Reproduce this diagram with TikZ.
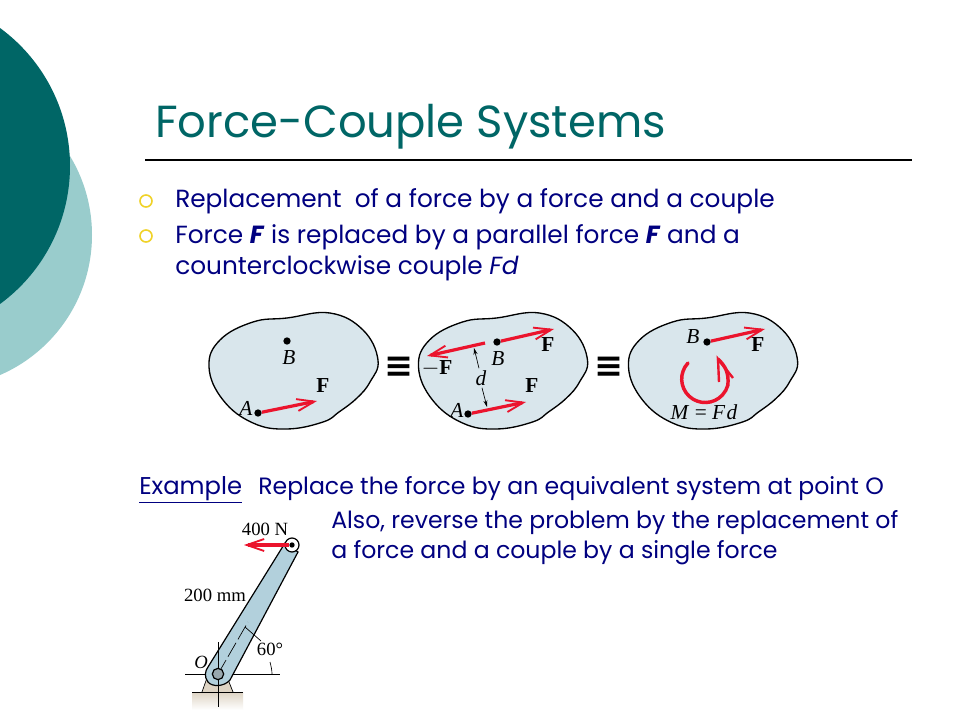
\documentclass[tikz,border=0pt]{standalone}
\usepackage{fontspec}
\setmainfont{Poppins}
\newfontfamily\figfont{Liberation Serif}
\newfontfamily\symfont{DejaVu Sans}
\usepackage{xcolor}
\usetikzlibrary{arrows.meta,positioning}
\definecolor{slideteal}{RGB}{0,102,102}
\definecolor{slidelight}{RGB}{153,204,204}
\definecolor{slidenavy}{RGB}{0,0,128}
\definecolor{slideyellow}{RGB}{240,210,40}
\definecolor{forcered}{RGB}{235,20,45}
\definecolor{blobblue}{RGB}{217,230,236}
\definecolor{armblue}{RGB}{178,208,220}
\definecolor{basetan}{RGB}{222,212,196}
\newcommand{\blobshape}[1]{%
  \draw[blobline,shift={(#1,0)}] plot[smooth cycle,tension=0.7] coordinates {(209,367) (220,340) (253,322) (287,318) (330,313) (363,330) (378,360) (370,382) (357,398) (339,412) (323,422) (287,429) (253,423) (223,400)};}
\tikzset{
  blobline/.style={draw=black,line width=1pt,fill=blobblue},
  forcearrow/.style={draw=forcered,line width=2.4pt,-{Straight Barb[length=13pt,width=9pt,line width=1.4pt]}},
  couplearc/.style={draw=forcered,line width=2.6pt,line cap=round},
  couplebarb/.style={draw=forcered,line width=1.8pt,line join=miter},
  pointdot/.style={fill=black,circle,inner sep=0pt,minimum size=5.5pt},
  bodytext/.style={anchor=base west,inner sep=0pt,text=slidenavy,font=\fontsize{18.6}{22}\selectfont},
  lowertext/.style={bodytext,font=\fontsize{17.7}{22}\selectfont},
  figlabel/.style={inner sep=0pt,font=\figfont\fontsize{16}{18}\selectfont},
  leverlabel/.style={inner sep=0pt,font=\figfont\fontsize{14}{16}\selectfont},
  equivsign/.style={inner sep=0pt,font=\symfont\bfseries\fontsize{26}{26}\selectfont},
  thinline/.style={line width=0.5pt},
  ring/.style={circle,draw=slideyellow,line width=1.2pt,minimum size=9pt,inner sep=0pt}
}
\begin{document}
\begin{tikzpicture}[x=0.75pt,y=-0.75pt]
    \useasboundingbox (0,0) rectangle (960,720);
    \clip (0,0) rectangle (960,720);
    % Background circles
    \fill[white] (0,0) rectangle (960,720);
    \fill[slidelight] (-60.5,235) circle (152.5);
    \fill[slideteal] (-101,166) circle (171);
    % Title
    \node[anchor=base west,inner sep=0pt,text=slideteal,font=\fontsize{33.7}{40}\selectfont] (title) at (155,138) {Force-Couple Systems};
    \draw[line width=0.8pt] (145,160) -- (912,160);
    % Bullets
    \node[ring] (ringa) at (146,201) {};
    \node[ring] (ringb) at (146,236) {};
    \node[bodytext] (linea) at (175,208) {Replacement\ \ of a force by a force and a couple};
    \node[bodytext] (lineb) at (175,244) {Force \textbf{\textit{F}} is replaced by a parallel force \textbf{\textit{F}} and a};
    \node[bodytext] (linec) at (175,275) {counterclockwise couple \textit{Fd}};
    % Three bodies
    \blobshape{0}
    \blobshape{209.5}
    \blobshape{419.5}
    \node[equivsign] (eqa) at (399,367) {≡};
    \node[equivsign] (eqb) at (609,367) {≡};
    % First body
    \node[pointdot] (ba) at (287,341) {};
    \node[pointdot] (aa) at (258,413) {};
    \coordinate (fa) at (317,401);
    \draw[forcearrow] (aa) -- (fa);
    \node[figlabel] (lba) at (289,358) {\textit{B}};
    \node[figlabel] (laa) at (246,408) {\textit{A}};
    \node[figlabel] (lfa) at (323,386) {\textbf{F}};
    % Second body
    \node[pointdot] (bb) at (497,342) {};
    \node[pointdot] (ab) at (468,414) {};
    \coordinate (fb) at (554,329);
    \coordinate (fc) at (526,402);
    \coordinate (mfs) at (485,343);
    \coordinate (mfe) at (427,356);
    \draw[forcearrow] (bb) -- (fb);
    \draw[forcearrow] (ab) -- (fc);
    \draw[forcearrow] (mfs) -- (mfe);
    \node[figlabel] (lbb) at (498,359) {\textit{B}};
    \node[figlabel] (lab) at (457,410) {\textit{A}};
    \node[figlabel] (lfb) at (548,345) {\textbf{F}};
    \node[figlabel] (lfc) at (532,386) {\textbf{F}};
    \node[figlabel] (lmf) at (437,368) {$-$\textbf{F}};
    \node[figlabel] (ld) at (481,378) {\textit{d}};
    \draw[thinline,-{Stealth[length=5pt,width=3pt]}] (ld.north) ++(-2,-2) -- (474,348);
    \draw[thinline,-{Stealth[length=5pt,width=3pt]}] (ld.south) ++(1,2) -- (487,407);
    % Third body
    \node[pointdot] (bc) at (707,342) {};
    \coordinate (fd) at (765,329);
    \draw[forcearrow] (bc) -- (fd);
    \node[figlabel] (lbc) at (693,337) {\textit{B}};
    \node[figlabel] (lfd) at (758,345) {\textbf{F}};
    \node[figlabel] (lm) at (704,412) {\textit{M} = \textit{F\kern1pt d}};
    \draw[couplearc] (688,363) arc[start angle=223,end angle=15,radius=23.5] .. controls (729,372) and (725,366) .. (718,359);
    \draw[couplebarb] (719,382) -- (718,359) -- (733,378);
    % Example
    \node[bodytext,font=\fontsize{18.2}{22}\selectfont] (exa) at (139,494) {\underline{Example}};
    \node[lowertext] (exb) at (258,494) {Replace the force by an equivalent system at point O};
    \node[lowertext] (exc) at (331,528) {Also, reverse the problem by the replacement of};
    \node[lowertext] (exd) at (331,558) {a force and a couple by a single force};
    % Base of the lever
    \shade[top color=basetan,bottom color=white] (192,692) rectangle (243,710);
    \fill[basetan] (202,692) -- (208,675) -- (227,677) -- (233,692) -- cycle;
    \draw[thinline] (202,692) -- (208,675);
    \draw[thinline] (233,692) -- (227,677);
    \draw[thinline] (192,692) -- (243,692);
    \draw[thinline] (185,674) -- (280,674);
    % Lever
    \filldraw[fill=armblue,draw=black,line width=0.9pt] (208,667) -- (285,543) -- (298,552) -- (230,680)
      .. controls (224,687) and (212,687) .. (208,682) .. controls (204,677) and (205,671) .. (208,667) -- cycle;
    \draw[thinline] (218,642) -- (218,707);
    \draw[thinline,dash pattern=on 12pt off 3pt] (218,674) -- (248,622);
    \draw[thinline] (245,627) -- (261,641);
    \draw[thinline] (272,674) .. controls (272,670) and (271,666) .. (270,662);
    \node[circle,draw=black,line width=0.9pt,fill=armblue!50!gray,minimum size=8.5pt,inner sep=0pt] (pino) at (218,674) {};
    \node[circle,draw=black,line width=0.9pt,fill=white,minimum size=10.5pt,inner sep=0pt] (pina) at (292,545) {};
    \node[pointdot,minimum size=4pt] (pindot) at (292,545) {};
    \coordinate (fe) at (244,545);
    \draw[forcearrow] (pindot) -- (fe);
    \node[leverlabel] (lforce) at (265,529) {400 N};
    \node[leverlabel] (llen) at (215,595) {200 mm};
    \node[leverlabel] (lo) at (201,662) {\textit{O}};
    \node[leverlabel] (lang) at (270,649) {60°};
\end{tikzpicture}
\end{document}
